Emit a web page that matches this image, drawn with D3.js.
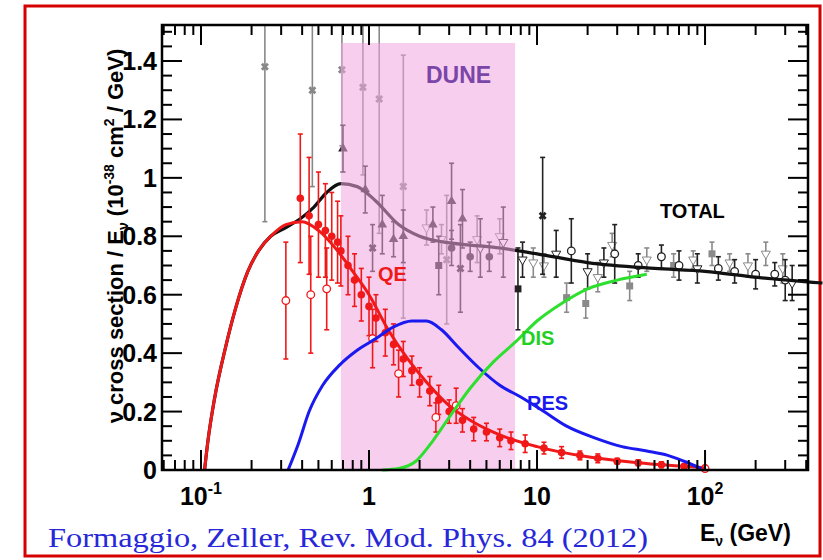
<!DOCTYPE html>
<html><head><meta charset="utf-8">
<script src="https://cdn.jsdelivr.net/npm/d3@7"></script>
<style>body{margin:0;background:#fff}text{font-family:"Liberation Sans",Arial,sans-serif}</style>
</head><body><svg id="c" width="823" height="560"></svg>
<script>
// curves: [E (GeV), sigma/E]
const totalCurve = [[0.105,0],[0.11,0.1],[0.12,0.24],[0.14,0.42],[0.16,0.55],[0.19,0.68],[0.22,0.75],[0.26,0.8],[0.32,0.83],[0.39,0.86],[0.47,0.9],[0.56,0.95],[0.68,0.98],[0.85,0.97],[1.1,0.92],[1.5,0.84],[2,0.8],[2.8,0.78],[4,0.77],[6,0.76],[10,0.74],[20,0.71],[50,0.69],[100,0.68],[200,0.66],[500,0.64]];
const qeCurve = [[0.105,0],[0.11,0.1],[0.12,0.24],[0.14,0.42],[0.16,0.55],[0.19,0.68],[0.22,0.75],[0.26,0.8],[0.32,0.84],[0.4,0.85],[0.5,0.82],[0.65,0.75],[0.8,0.68],[1,0.6],[1.3,0.48],[1.7,0.38],[2.2,0.3],[3,0.22],[4,0.17],[6,0.12],[10,0.08],[20,0.045],[40,0.025],[100,0.008]];
const resCurve = [[0.33,0],[0.38,0.09],[0.44,0.2],[0.53,0.29],[0.67,0.36],[0.85,0.41],[1.1,0.45],[1.4,0.49],[1.8,0.51],[2.2,0.51],[2.7,0.48],[3.4,0.42],[4.5,0.35],[6,0.29],[8,0.25],[11,0.2],[15,0.15],[22,0.11],[32,0.08],[45,0.065],[60,0.05],[75,0.03],[95,0.005]];
const disCurve = [[1.2,0],[1.5,0.005],[1.9,0.03],[2.4,0.1],[3,0.18],[4,0.28],[5.5,0.37],[7.5,0.44],[10,0.51],[14,0.57],[20,0.62],[30,0.65],[45,0.67]];

// data points: [E, value, error, marker]
const greyCross = [[0.24,1.38,0.53],[0.46,1.3,0.33],[0.69,1.37,0.26],[0.92,1.31,0.3],[1.15,1.27,0.46],[1.6,0.97,0.45],[2.9,0.72,0.22]];
const redPts = [[0.32,0.58,0.2,'o'],[0.39,0.93,0.22,'f'],[0.44,0.87,0.2,'f'],[0.5,0.84,0.18,'f'],[0.45,0.6,0.2,'o'],[0.55,0.82,0.16,'f'],[0.6,0.8,0.15,'f'],[0.65,0.78,0.14,'f'],[0.68,0.75,0.12,'f'],[0.56,0.62,0.14,'o'],[0.75,0.7,0.1,'f'],[0.82,0.65,0.09,'f'],[0.9,0.6,0.09,'f'],[1.0,0.56,0.1,'f'],[1.1,0.52,0.08,'f'],[1.05,0.45,0.1,'o'],[1.25,0.47,0.08,'f'],[1.4,0.43,0.07,'f'],[1.6,0.38,0.06,'f'],[1.5,0.33,0.08,'o'],[1.8,0.34,0.05,'f'],[2.0,0.3,0.05,'f'],[2.3,0.27,0.05,'f'],[2.6,0.24,0.05,'f'],[2.5,0.18,0.05,'o'],[3.0,0.2,0.04,'f'],[3.3,0.22,0.06,'o'],[3.6,0.17,0.04,'f'],[4.2,0.14,0.04,'f'],[5,0.13,0.03,'f'],[6,0.11,0.03,'f'],[7,0.1,0.03,'f'],[8.5,0.09,0.03,'f'],[11,0.075,0.02,'f'],[14,0.06,0.02,'f'],[18,0.05,0.015,'f'],[23,0.04,0.015,'f'],[30,0.03,0.01,'f'],[40,0.025,0.01,'f'],[55,0.018,0.01,'f'],[75,0.012,0.01,'f'],[100,0.005,0.01,'o']];
const blackPts = [[0.7,1.1,0.08,'t'],[0.95,0.96,0.08,'t'],[1.2,0.84,0.1,'t'],[1.05,0.76,0.08,'x'],[1.4,0.79,0.06,'t'],[1.6,0.8,0.09,'t'],[2.4,0.84,0.06,'t'],[3.1,0.92,0.13,'t'],[3.6,0.86,0.1,'t'],[2.6,0.7,0.1,'s'],[3.1,0.76,0.06,'f'],[4.0,0.73,0.05,'f'],[5.2,0.73,0.05,'f'],[3.5,0.69,0.15,'x'],[4.6,0.76,0.1,'i'],[6.3,0.78,0.12,'i'],[7.7,0.62,0.14,'s'],[10.8,0.87,0.2,'x'],[8.2,0.72,0.06,'i'],[13,0.74,0.08,'i'],[16,0.75,0.11,'o'],[20,0.68,0.06,'i'],[29,0.74,0.1,'o'],[25,0.71,0.05,'i'],[40,0.7,0.04,'o'],[55,0.73,0.04,'o'],[70,0.7,0.05,'o'],[90,0.69,0.05,'i'],[120,0.69,0.04,'o'],[150,0.68,0.04,'o'],[200,0.67,0.05,'o'],[260,0.67,0.04,'o'],[300,0.65,0.07,'o'],[330,0.64,0.06,'i']];
const greyPts = [[2.2,0.83,0.06,'i'],[2.7,0.79,0.05,'i'],[4.4,0.79,0.08,'i'],[6,0.8,0.06,'i'],[9.5,0.71,0.05,'i'],[11,0.7,0.04,'i'],[15,0.59,0.05,'s'],[19.5,0.57,0.05,'s'],[23,0.66,0.05,'i'],[35.6,0.63,0.05,'s'],[28,0.77,0.04,'i'],[45,0.72,0.04,'i'],[65,0.7,0.04,'s'],[85,0.72,0.03,'i'],[110,0.74,0.04,'s'],[140,0.71,0.03,'i'],[180,0.7,0.04,'i'],[230,0.74,0.04,'i'],[290,0.69,0.05,'i']];

const yTicks = [0,0.2,0.4,0.6,0.8,1,1.2,1.4];
const xTicks = [[0.1,'10','-1'],[1,'1',''],[10,'10',''],[100,'10','2']];

const L=162,R=808,T=25,B=470;
const x = d3.scaleLog().domain([0.0586,410]).range([L,R]);
const y = d3.scaleLinear().domain([0,1.4]).range([B,61]);
const svg = d3.select('#c');

svg.append('rect').attr('x',25).attr('y',6).attr('width',795).attr('height',550).attr('fill','none').attr('stroke','#d40000').attr('stroke-width',3);

const line = d3.line().x(d=>x(d[0])).y(d=>y(d[1])).curve(d3.curveMonotoneX);

function drawPts(data,col){
  const g = svg.append('g');
  data.forEach(d=>{
    const cx=x(d[0]),cy=y(d[1]),y0=Math.max(T,y(d[1]+d[2])),y1=y(Math.max(0,d[1]-d[2]));
    g.append('line').attr('x1',cx).attr('x2',cx).attr('y1',y0).attr('y2',y1).attr('stroke',col).attr('stroke-width',1.6);
    [y0,y1].forEach(v=>g.append('line').attr('x1',cx-2.5).attr('x2',cx+2.5).attr('y1',v).attr('y2',v).attr('stroke',col).attr('stroke-width',1.6));
    const m=d[3]||'x';
    if(m==='f') g.append('circle').attr('cx',cx).attr('cy',cy).attr('r',3.8).attr('fill',col);
    else if(m==='o') g.append('circle').attr('cx',cx).attr('cy',cy).attr('r',3.8).attr('fill','#fff').attr('stroke',col).attr('stroke-width',1.3);
    else if(m==='t') g.append('path').attr('d',d3.symbol(d3.symbolTriangle,40)()).attr('transform',`translate(${cx},${cy})`).attr('fill',col);
    else if(m==='s') g.append('rect').attr('x',cx-3.5).attr('y',cy-3.5).attr('width',7).attr('height',7).attr('fill',col);
    else if(m==='i') g.append('path').attr('d',d3.symbol(d3.symbolTriangle,36)()).attr('transform',`translate(${cx},${cy}) rotate(180)`).attr('fill','#fff').attr('stroke',col);
    else g.append('path').attr('d',d3.symbol(d3.symbolCross,40)()).attr('transform',`translate(${cx},${cy}) rotate(45)`).attr('fill',col);
  });
}
drawPts(greyCross.map(d=>[...d,'x']),'#888');
drawPts(greyPts,'#8a8a8a');
drawPts(blackPts,'#222');
svg.append('path').datum(totalCurve).attr('d',line).attr('fill','none').attr('stroke','#111').attr('stroke-width',3.2);

// DUNE band
svg.append('rect').attr('x',x(0.68)).attr('y',43).attr('width',x(7.4)-x(0.68)).attr('height',B-43).attr('fill','#f2a6e2').attr('opacity',0.55);

drawPts(redPts,'#f01818');
svg.append('path').datum(qeCurve).attr('d',line).attr('fill','none').attr('stroke','#f01818').attr('stroke-width',3);
svg.append('path').datum(resCurve).attr('d',line).attr('fill','none').attr('stroke','#1a1af0').attr('stroke-width',3);
svg.append('path').datum(disCurve).attr('d',line).attr('fill','none').attr('stroke','#2ee02e').attr('stroke-width',3);

// frame
svg.append('rect').attr('x',L).attr('y',T).attr('width',R-L).attr('height',B-T).attr('fill','none').attr('stroke','#000').attr('stroke-width',2.5);

// y axis ticks
const yMinor = d3.range(0,1.51,0.05);
yMinor.forEach(v=>{
  const major = yTicks.some(t=>Math.abs(t-v)<1e-6);
  const len = major?20:10;
  svg.append('line').attr('x1',L).attr('x2',L+len).attr('y1',y(v)).attr('y2',y(v)).attr('stroke','#000').attr('stroke-width',2);
  svg.append('line').attr('x1',R).attr('x2',R-len).attr('y1',y(v)).attr('y2',y(v)).attr('stroke','#000').attr('stroke-width',2);
});
yTicks.forEach(v=>svg.append('text').attr('x',157).attr('y',y(v)+9).attr('text-anchor','end').attr('font-size',25).attr('font-weight','bold').text(v));

// x axis ticks
for(let dec=-2;dec<=2;dec++){
  for(let k=1;k<10;k++){
    const v=k*Math.pow(10,dec);
    if(v<0.0586||v>410) continue;
    const len=k===1?20:10;
    svg.append('line').attr('x1',x(v)).attr('x2',x(v)).attr('y1',B).attr('y2',B-len).attr('stroke','#000').attr('stroke-width',2);
    svg.append('line').attr('x1',x(v)).attr('x2',x(v)).attr('y1',T).attr('y2',T+len).attr('stroke','#000').attr('stroke-width',2);
  }
}
xTicks.forEach(t=>{
  const tx=svg.append('text').attr('x',x(t[0])).attr('y',505).attr('text-anchor','middle').attr('font-size',25).attr('font-weight','bold');
  tx.append('tspan').text(t[1]);
  if(t[2]) tx.append('tspan').attr('dy',-11).attr('font-size',16).text(t[2]);
});

// labels
const lab=(t,px,py,c,s)=>svg.append('text').attr('x',px).attr('y',py).attr('fill',c).attr('font-size',s).attr('font-weight','bold').text(t);
lab('DUNE',426,83,'#7a46a8',23);
lab('TOTAL',660,218,'#000',20);
lab('QE',378,281,'#f01818',20);
lab('RES',527,410,'#1a1af0',20);
lab('DIS',521,345,'#22d022',20);

const yl=svg.append('text').attr('transform','translate(123,236) rotate(-90)').attr('text-anchor','middle').attr('font-size',22).attr('font-weight','bold');
yl.append('tspan').text('ν cross section / E');
yl.append('tspan').attr('font-size',14).attr('dy',5).text('ν');
yl.append('tspan').attr('dy',-5).text(' (10');
yl.append('tspan').attr('font-size',14).attr('dy',-9).text('-38');
yl.append('tspan').attr('dy',9).text(' cm');
yl.append('tspan').attr('font-size',14).attr('dy',-9).text('2');
yl.append('tspan').attr('dy',9).text(' / GeV)');

const xl=svg.append('text').attr('x',700).attr('y',541).attr('font-size',23).attr('font-weight','bold');
xl.append('tspan').text('E');
xl.append('tspan').attr('font-size',14).attr('dy',5).text('ν');
xl.append('tspan').attr('dy',-5).text(' (GeV)');

svg.append('text').attr('x',48).attr('y',547).style('font-family','"Liberation Serif",serif').attr('font-size',28).attr('textLength',600).attr('lengthAdjust','spacingAndGlyphs').attr('fill','#2828d8').text('Formaggio, Zeller, Rev. Mod. Phys. 84 (2012)');
</script></body></html>
